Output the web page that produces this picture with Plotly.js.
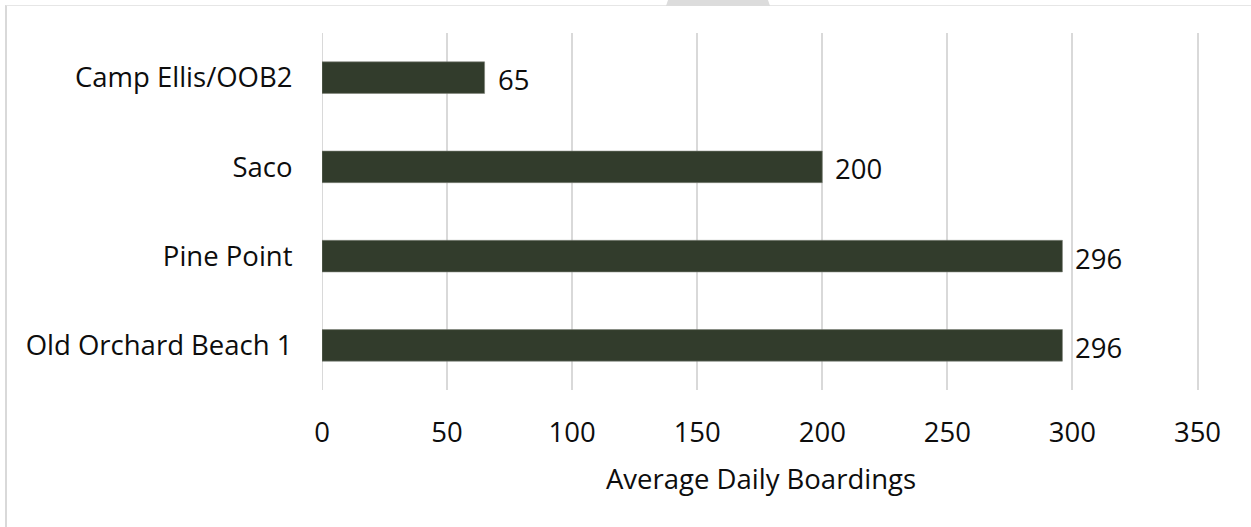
<!DOCTYPE html>
<html>
<head>
<meta charset="utf-8">
<script src="https://cdn.plot.ly/plotly-3.0.1.min.js"></script>
<style>
  html, body { margin: 0; padding: 0; background: #fff; }
  #wrap { position: relative; width: 1251px; height: 527px; overflow: hidden; }
  #chart { position: absolute; left: 0; top: 0; width: 1251px; height: 527px; }
  #frame { position: absolute; left: 5px; top: 5px; width: 1260px; height: 540px;
           border-top: 1px solid #e6e6e6; border-left: 2px solid #d9d9d9; pointer-events: none; }
  #tab { position: absolute; left: 666px; top: 0; pointer-events: none; }
</style>
</head>
<body>
<div id="wrap">
  <div id="chart"></div>
  <div id="frame"></div>
  <svg id="tab" width="106" height="6"><polygon points="2,0 102,0 104,6 0,6" fill="#dcdcdc"/></svg>
</div>
<script>
// Data
var categories = ["Old Orchard Beach 1", "Pine Point", "Saco", "Camp Ellis/OOB2"];
var boardings = [296, 296, 200, 65];
var tickValues = [0, 50, 100, 150, 200, 250, 300, 350];
var xAxisTitle = "Average Daily Boardings";

var FONT = '"Open Sans", "Noto Sans", sans-serif';
var TXT = '#0d0d0d';
var FS = 27.5;

var trace = {
  type: 'bar',
  orientation: 'h',
  y: categories,
  x: boardings,
  width: 0.354,
  marker: { color: '#323c2c', line: { color: '#7d8378', width: 0.6 } },
  hoverinfo: 'none'
};

var annotations = categories.map(function (c, i) {
  return {
    x: boardings[i], y: c, xref: 'x', yref: 'y',
    text: String(boardings[i]),
    showarrow: false, xanchor: 'left', yanchor: 'middle',
    xshift: 11, yshift: -2,
    font: { family: FONT, size: FS, color: TXT }
  };
});

var layout = {
  width: 1251, height: 527,
  margin: { l: 322, r: 50.5, t: 33, b: 137, pad: 0 },
  paper_bgcolor: '#ffffff', plot_bgcolor: '#ffffff',
  showlegend: false,
  bargap: 0.646,
  font: { family: FONT, size: FS, color: TXT },
  xaxis: {
    range: [0, 351],
    tickvals: tickValues,
    ticktext: tickValues.map(String),
    showgrid: true, gridcolor: '#d9d9d9', gridwidth: 2,
    zeroline: false, showline: false,
    ticks: 'outside', ticklen: 18, tickcolor: 'rgba(0,0,0,0)',
    tickfont: { family: FONT, size: FS, color: TXT },
    title: { text: xAxisTitle, font: { family: FONT, size: FS, color: TXT }, standoff: 20 },
    fixedrange: true
  },
  yaxis: {
    type: 'category',
    categoryorder: 'array', categoryarray: categories,
    showgrid: false, zeroline: false, showline: false,
    ticks: 'outside', ticklen: 23, tickcolor: 'rgba(0,0,0,0)',
    tickfont: { family: FONT, size: FS, color: TXT },
    fixedrange: true
  },
  shapes: [{
    type: 'line', xref: 'x', yref: 'paper', x0: 0, x1: 0, y0: 0, y1: 1,
    line: { color: '#d9d9d9', width: 2 }, layer: 'below'
  }],
  annotations: annotations
};

Plotly.newPlot('chart', [trace], layout, { displayModeBar: false, staticPlot: true });
</script>
</body>
</html>
